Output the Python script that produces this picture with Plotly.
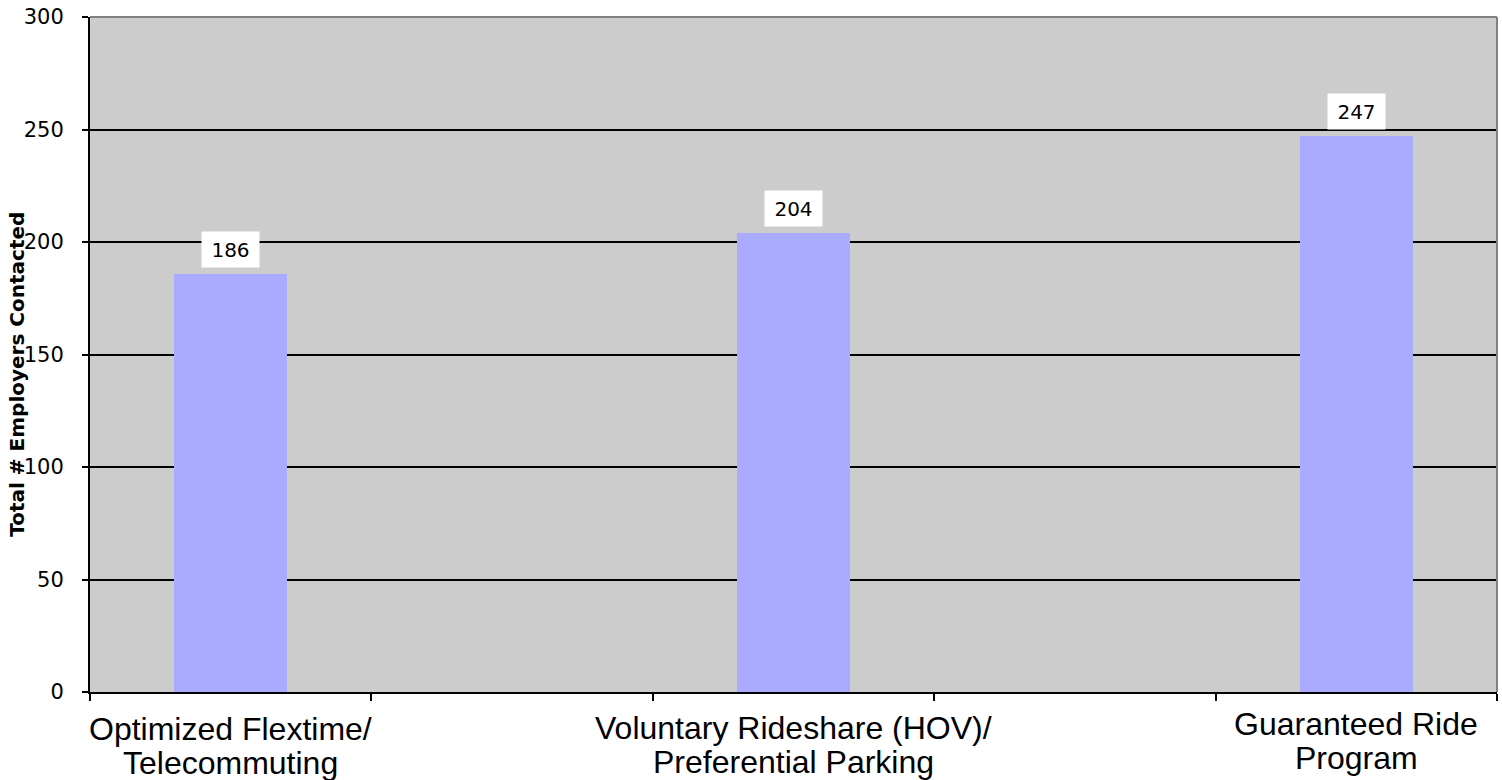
import plotly.graph_objects as go

# Data
categories = ["Optimized Flextime/<br>Telecommuting", "", "Voluntary Rideshare (HOV)/<br>Preferential Parking", "", "Guaranteed Ride<br>Program"]
values = [186, None, 204, None, 247]
y_title = "Total # Employers Contacted"
y_ticks = [0, 50, 100, 150, 200, 250, 300]

xpos = list(range(len(categories)))
bar_x = [x for x, v in zip(xpos, values) if v is not None]
bar_y = [v for v in values if v is not None]

fig = go.Figure()
fig.add_trace(go.Bar(
    x=bar_x, y=bar_y, width=0.4,
    marker=dict(color="#AAAAFF", line=dict(width=0)),
    hoverinfo="skip",
))

annotations = []
# data labels
for x, v in zip(bar_x, bar_y):
    annotations.append(dict(
        x=x, y=v, xref="x", yref="y", text=str(v), showarrow=False,
        yanchor="bottom", yshift=6, bgcolor="white", borderpad=2,
        width=53, height=31, align="center", valign="middle",
        font=dict(family="DejaVu Sans", size=20, color="black"),
    ))
# category labels (line by line)
label_shift = {0: 0, 2: 1, 4: 5}
for x, lab in zip(xpos, categories):
    if not lab:
        continue
    lines = lab.split("<br>")
    for i, line in enumerate(lines):
        annotations.append(dict(
            x=x, y=0, xref="x", yref="paper", text=line, showarrow=False,
            yanchor="middle", yshift=-37 - 34 * i + label_shift[x],
            font=dict(family="Liberation Sans, Arial", size=32, color="black"),
        ))
# y title
annotations.append(dict(
    x=(17 - 90) / 1407, y=0.47, xref="paper", yref="paper", text="<b>" + y_title + "</b>",
    showarrow=False, textangle=-90, xanchor="center", yanchor="middle",
    font=dict(family="DejaVu Sans", size=20, color="black"),
))

fig.update_layout(
    width=1502, height=780,
    margin=dict(l=90, r=5, t=17, b=88, pad=0),
    paper_bgcolor="white", plot_bgcolor="#CCCCCC",
    showlegend=False,
    annotations=annotations,
    bargap=0,
    xaxis=dict(
        range=[-0.5, 4.5], tickvals=[i - 0.5 for i in range(len(categories) + 1)],
        ticktext=[""] * (len(categories) + 1), ticks="outside", ticklen=7,
        tickcolor="black", tickwidth=2, showline=True, linecolor="black", linewidth=2,
        showgrid=False, zeroline=False, fixedrange=True,
    ),
    yaxis=dict(
        range=[0, 300], tickvals=y_ticks, ticks="outside", ticklen=6,
        tickcolor="black", tickwidth=2, showline=True, linecolor="black", linewidth=2,
        showgrid=True, gridcolor="black", gridwidth=1.5, zeroline=False,
        tickfont=dict(family="DejaVu Sans", size=21, color="black"),
        ticklabelstandoff=14, fixedrange=True,
    ),
    shapes=[
        dict(type="line", xref="paper", yref="paper", x0=0, x1=1, y0=1, y1=1,
             line=dict(color="#808080", width=2)),
        dict(type="line", xref="paper", yref="paper", x0=1, x1=1, y0=0, y1=1,
             line=dict(color="#808080", width=2)),
    ],
)

fig.write_html(
    "out.html",
    config={"displayModeBar": False},
    post_script="document.body.style.margin='0';document.body.style.overflow='hidden';",
)
